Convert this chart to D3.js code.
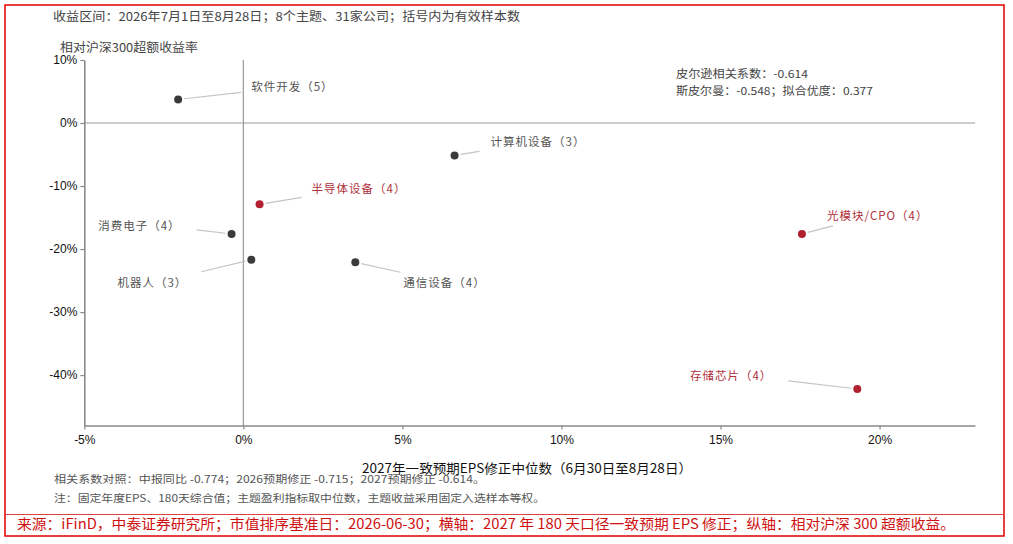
<!DOCTYPE html>
<html>
<head>
<meta charset="utf-8">
<script src="https://cdn.jsdelivr.net/npm/d3@7/dist/d3.min.js"></script>
<style>
  html, body { margin: 0; padding: 0; background: #fff; }
  .cjk { font-family: "Noto Sans CJK SC", sans-serif; }
  .tick text { font-family: "Liberation Sans", Arial, sans-serif; font-size: 12px; fill: #111; }
</style>
</head>
<body>
<div id="chart"></div>
<script>
// 数据
const themes = ["软件开发", "计算机设备", "半导体设备", "消费电子", "机器人", "通信设备", "光模块/CPO", "存储芯片"];
const sampleCounts = [5, 3, 4, 4, 3, 4, 4, 4];
const epsRevision = [-2.05, 6.64, 0.51, -0.37, 0.25, 3.52, 17.56, 19.3];   // 横轴 %
const excessReturn = [3.75, -5.14, -12.9, -17.6, -21.7, -22.1, -17.6, -42.2]; // 纵轴 %
const highlighted = ["半导体设备", "光模块/CPO", "存储芯片"];
const xTicks = [-5, 0, 5, 10, 15, 20];
const yTicks = [10, 0, -10, -20, -30, -40];

// 标签位置（相对点的像素偏移）
const labelLayout = {
  "软件开发":   { dx: 73,  dy: -12, anchor: "start", lx: 63,  ly: -7 },
  "计算机设备": { dx: 36,  dy: -13, anchor: "start", lx: 25,  ly: -4 },
  "半导体设备": { dx: 52,  dy: -15, anchor: "start", lx: 42,  ly: -7 },
  "消费电子":   { dx: -51, dy: -8,  anchor: "end",   lx: -35, ly: -4 },
  "机器人":     { dx: -64, dy: 23,  anchor: "end",   lx: -50, ly: 12 },
  "通信设备":   { dx: 48,  dy: 21,  anchor: "start", lx: 45,  ly: 10 },
  "光模块/CPO": { dx: 25,  dy: -18, anchor: "start", lx: 31,  ly: -8 },
  "存储芯片":   { dx: -85, dy: -13, anchor: "end",   lx: -69, ly: -8 }
};

const data = themes.map((t, i) => ({
  theme: t, n: sampleCounts[i], x: epsRevision[i], y: excessReturn[i],
  hot: highlighted.includes(t)
}));

const W = 1013, H = 544;
const red = "#e00000";
const hotColor = "#b0202e";

const svg = d3.select("#chart").append("svg")
  .attr("width", W).attr("height", H);

// 外框
svg.append("rect")
  .attr("x", 5).attr("y", 5).attr("width", 999).attr("height", 531)
  .attr("fill", "none").attr("stroke", red).attr("stroke-width", 1.5);
svg.append("line")
  .attr("x1", 5).attr("x2", 1004).attr("y1", 514.5).attr("y2", 514.5)
  .attr("stroke", "#e04040").attr("stroke-width", 1);

// スケール
const x = d3.scaleLinear().domain([-5, 23]).range([84.3, 975]);
const y = d3.scaleLinear().domain([10, -48]).range([60, 425.5]);

// 零线
svg.append("line")
  .attr("x1", x(-5)).attr("x2", x(23)).attr("y1", y(0)).attr("y2", y(0))
  .attr("stroke", "#999").attr("stroke-width", 1.2);
svg.append("line")
  .attr("x1", x(0)).attr("x2", x(0)).attr("y1", y(10)).attr("y2", y(-48))
  .attr("stroke", "#999").attr("stroke-width", 1.2);

// 軸
const fmt = d => d + "%";
const xAxis = svg.append("g")
  .attr("transform", `translate(0,${y(-48)})`)
  .call(d3.axisBottom(x).tickValues(xTicks).tickFormat(fmt).tickSize(4).tickSizeOuter(0));
const yAxis = svg.append("g")
  .attr("transform", `translate(${x(-5)},0)`)
  .call(d3.axisLeft(y).tickValues(yTicks).tickFormat(fmt).tickSize(4).tickSizeOuter(0));
[xAxis, yAxis].forEach(g => {
  g.select(".domain").attr("stroke", "#8a8a8a").attr("stroke-width", 1.6);
  g.selectAll(".tick line").attr("stroke", "#8a8a8a").attr("stroke-width", 1.2);
});
xAxis.selectAll(".tick text").attr("dy", "0.95em");
yAxis.selectAll(".tick text").attr("x", -7);

// 引线
svg.selectAll(".leader")
  .data(data).enter().append("line")
  .attr("class", "leader")
  .attr("x1", d => { const L = labelLayout[d.theme]; const r = Math.hypot(L.lx, L.ly); return x(d.x) + L.lx / r * 6; })
  .attr("y1", d => { const L = labelLayout[d.theme]; const r = Math.hypot(L.lx, L.ly); return y(d.y) + L.ly / r * 6; })
  .attr("x2", d => x(d.x) + labelLayout[d.theme].lx)
  .attr("y2", d => y(d.y) + labelLayout[d.theme].ly)
  .attr("stroke", "#c4c4c4").attr("stroke-width", 1.2);

// 点
svg.selectAll(".dot")
  .data(data).enter().append("circle")
  .attr("class", "dot")
  .attr("cx", d => x(d.x)).attr("cy", d => y(d.y))
  .attr("r", 4)
  .attr("fill", d => d.hot ? hotColor : "#3a3a3a");

// 标签
svg.selectAll(".label")
  .data(data).enter().append("text")
  .attr("class", "label cjk")
  .attr("x", d => x(d.x) + labelLayout[d.theme].dx)
  .attr("y", d => y(d.y) + labelLayout[d.theme].dy)
  .attr("dy", "0.35em")
  .attr("text-anchor", d => labelLayout[d.theme].anchor)
  .style("font-size", "11.5px")
  .style("letter-spacing", "1px")
  .attr("fill", d => d.hot ? "#b0303c" : "#555")
  .text(d => `${d.theme}（${d.n}）`);

// テキスト
function addText(str, px, py, size, color, len, anchor) {
  const t = svg.append("text")
    .attr("class", "cjk")
    .attr("x", px).attr("y", py).attr("dy", "0.35em")
    .attr("text-anchor", anchor || "start")
    .style("font-size", size + "px")
    .attr("fill", color)
    .text(str);
  if (len) t.attr("textLength", len).attr("lengthAdjust", "spacingAndGlyphs");
  return t;
}

addText("收益区间：2026年7月1日至8月28日；8个主题、31家公司；括号内为有效样本数", 53, 17, 12, "#444", 467);
addText("相对沪深300超额收益率", 60, 48, 12, "#444", 138);
addText("皮尔逊相关系数：-0.614", 676, 74, 11, "#444", 132);
addText("斯皮尔曼：-0.548；拟合优度：0.377", 676, 91, 11, "#444", 197);
addText("2027年一致预期EPS修正中位数（6月30日至8月28日）", 362, 468, 13, "#111", 330);
addText("相关系数对照：中报同比 -0.774；2026预期修正 -0.715；2027预期修正 -0.614。", 54, 479, 10.5, "#555", 431);
addText("注：固定年度EPS、180天综合值；主题盈利指标取中位数，主题收益采用固定入选样本等权。", 54, 498, 10.5, "#555", 491);
addText("来源：iFinD，中泰证券研究所；市值排序基准日：2026-06-30；横轴：2027 年 180 天口径一致预期 EPS 修正；纵轴：相对沪深 300 超额收益。", 17, 524, 14, "#d01010", 938);
</script>
</body>
</html>
